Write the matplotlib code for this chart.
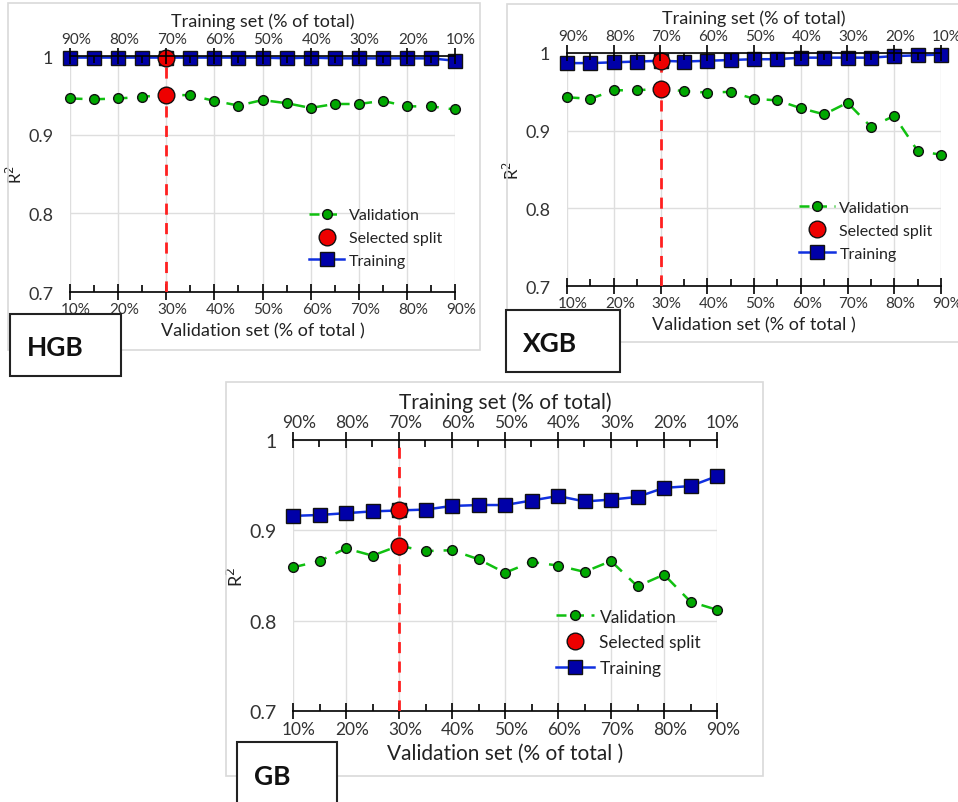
import numpy as np
import matplotlib
matplotlib.use('Agg')
import matplotlib.pyplot as plt
from matplotlib.patches import Rectangle
import matplotlib.transforms as mtransforms
from matplotlib.lines import Line2D

plt.rcParams['font.family'] = ['Lato', 'DejaVu Sans']

# validation share (% of total) and the matching training share
val_pct = [10, 15, 20, 25, 30, 35, 40, 45, 50, 55, 60, 65, 70, 75, 80, 85, 90]
major_pct = [10, 20, 30, 40, 50, 60, 70, 80, 90]
val_labels = ['10%', '20%', '30%', '40%', '50%', '60%', '70%', '80%', '90%']
train_labels = ['90%', '80%', '70%', '60%', '50%', '40%', '30%', '20%', '10%']
selected_pct = 30

# HGB
hgb_val = [0.946, 0.945, 0.946, 0.948, 0.951, 0.950, 0.943, 0.937, 0.944, 0.940,
           0.934, 0.939, 0.939, 0.943, 0.936, 0.936, 0.932]
hgb_train = [0.998, 0.998, 0.998, 0.998, 0.998, 0.998, 0.998, 0.998, 0.998, 0.997,
             0.998, 0.997, 0.997, 0.997, 0.997, 0.997, 0.994]
# XGB
xgb_val = [0.943, 0.941, 0.952, 0.952, 0.954, 0.951, 0.949, 0.950, 0.941, 0.939,
           0.929, 0.921, 0.936, 0.905, 0.919, 0.874, 0.869]
xgb_train = [0.987, 0.987, 0.988, 0.989, 0.990, 0.989, 0.990, 0.991, 0.992, 0.992,
             0.994, 0.994, 0.994, 0.994, 0.996, 0.997, 0.998]
# GB
gb_val = [0.859, 0.866, 0.880, 0.872, 0.883, 0.877, 0.878, 0.868, 0.853, 0.865,
          0.861, 0.854, 0.866, 0.838, 0.851, 0.821, 0.812]
gb_train = [0.916, 0.917, 0.919, 0.921, 0.922, 0.923, 0.927, 0.928, 0.928, 0.933,
            0.938, 0.932, 0.934, 0.937, 0.947, 0.949, 0.960]

W, H = 958, 803
fig = plt.figure(figsize=(W / 100, H / 100), dpi=100)
fig.patch.set_facecolor('white')


def px_axes(left, top, right, bottom):
    return fig.add_axes([left / W, 1 - bottom / H, (right - left) / W, (bottom - top) / H])


def px_rect(left, top, right, bottom, **kw):
    fig.patches.append(Rectangle((left / W, 1 - bottom / H), (right - left) / W, (bottom - top) / H,
                                 transform=fig.transFigure, **kw))


def draw_panel(ax, val, train, tick_fs, ytick_fs, title_fs, legend_fs, legend_anchor):
    ax.set_xlim(10, 90)
    ax.set_ylim(0.7, 1.0)
    ax.grid(True, color='#dedede', linewidth=1)
    ax.set_axisbelow(True)
    for s in ['left', 'right', 'top']:
        ax.spines[s].set_visible(False)
    ax.spines['bottom'].set_linewidth(1.2)
    ax.set_yticks([0.7, 0.8, 0.9, 1.0])
    ax.set_yticklabels(['0.7', '0.8', '0.9', '1'], fontsize=ytick_fs, color='#333333')
    ax.tick_params(axis='y', length=0, pad=12)
    ax.set_xticks(major_pct)
    ax.set_xticks(val_pct, minor=True)
    ax.set_xticklabels(val_labels, fontsize=tick_fs, color='#333333')
    ax.tick_params(axis='x', which='major', direction='inout', length=11, width=1.2, pad=2)
    ax.tick_params(axis='x', which='minor', direction='in', length=5, width=1.2)
    ax.set_xlabel('Validation set (% of total )', fontsize=title_fs, color='#222222', labelpad=4)
    ax.set_ylabel('R$^2$', fontsize=ytick_fs - 1, color='#222222', labelpad=2)

    top = ax.twiny()
    top.set_xlim(10, 90)
    for s in ['left', 'right', 'bottom']:
        top.spines[s].set_visible(False)
    top.spines['top'].set_linewidth(1.2)
    top.set_xticks(major_pct)
    top.set_xticks(val_pct, minor=True)
    top.set_xticklabels(train_labels, fontsize=tick_fs, color='#333333')
    top.tick_params(axis='x', which='major', direction='inout', length=11, width=1.2, pad=2)
    top.tick_params(axis='x', which='minor', direction='in', length=5, width=1.2)
    top.set_xlabel('Training set (% of total)', fontsize=title_fs, color='#222222', labelpad=4)

    # shift tick labels a little right, like the original
    shift = mtransforms.ScaledTranslation(6 / 100, 0, fig.dpi_scale_trans)
    for lab in ax.get_xticklabels() + top.get_xticklabels():
        lab.set_transform(lab.get_transform() + shift)

    ax.axvline(selected_pct, ymin=0, ymax=1, color='#ff2020', linestyle=(0, (4, 3)),
               linewidth=2, zorder=3)
    ax.plot(val_pct, val, color='#10c010', linestyle=(0, (5, 4)), linewidth=1.8,
            marker='o', markersize=7, markerfacecolor='#00a800', markeredgecolor='#111111',
            markeredgewidth=1, clip_on=False, zorder=4)
    ax.plot(val_pct, train, color='#1030e0', linewidth=1.8,
            marker='s', markersize=9.5, markerfacecolor='#0000a8', markeredgecolor='#111111',
            markeredgewidth=1, clip_on=False, zorder=5)
    i = val_pct.index(selected_pct)
    ax.plot([selected_pct, selected_pct], [val[i], train[i]], linestyle='none',
            marker='o', markersize=12, markerfacecolor='#ee0000', markeredgecolor='#111111',
            markeredgewidth=1, clip_on=False, zorder=6)

    handles = [
        Line2D([], [], color='#10c010', linestyle=(0, (4, 3)), linewidth=1.8, marker='o',
               markersize=7, markerfacecolor='#00a800', markeredgecolor='#111111'),
        Line2D([], [], linestyle='none', marker='o', markersize=12,
               markerfacecolor='#ee0000', markeredgecolor='#111111'),
        Line2D([], [], color='#1030e0', linewidth=1.8, marker='s', markersize=9.5,
               markerfacecolor='#0000a8', markeredgecolor='#111111'),
    ]
    leg = ax.legend(handles, ['Validation', 'Selected split', 'Training'],
                    loc='upper left', bbox_to_anchor=legend_anchor, frameon=False,
                    fontsize=legend_fs, handlelength=2.2, handletextpad=0.3,
                    labelspacing=0.55, borderpad=0)
    for t in leg.get_texts():
        t.set_color('#222222')


# panel frames
px_rect(8, 4, 480, 351, fill=False, edgecolor='#d9d9d9', linewidth=1.2)
px_rect(507, 5, 962, 343, fill=False, edgecolor='#d9d9d9', linewidth=1.2)
px_rect(226, 383, 763, 777, fill=False, edgecolor='#d9d9d9', linewidth=1.2)

ax1 = px_axes(70, 57, 455, 293)
draw_panel(ax1, hgb_val, hgb_train, 11, 13, 13, 11.5, (0.6, 0.39))
ax2 = px_axes(567, 54, 941, 287)
draw_panel(ax2, xgb_val, xgb_train, 11, 13, 13, 11.5, (0.6, 0.4))
ax3 = px_axes(293, 441, 717, 712)
draw_panel(ax3, gb_val, gb_train, 12.5, 14, 15, 12.5, (0.6, 0.41))

# model name boxes
for (l, t, r, b, name) in [(10, 315, 121, 377, 'HGB'), (506, 311, 620, 373, 'XGB'),
                           (237, 743, 337, 806, 'GB')]:
    px_rect(l, t, r, b, facecolor='white', edgecolor='#222222', linewidth=1.5, zorder=10)
    fig.text((l + 17) / W, 1 - (t + b) / 2 / H - 0.003, name, fontsize=19, fontweight='bold',
             va='center', ha='left', zorder=11, color='#111111')

fig.savefig('out.png', dpi=100)
